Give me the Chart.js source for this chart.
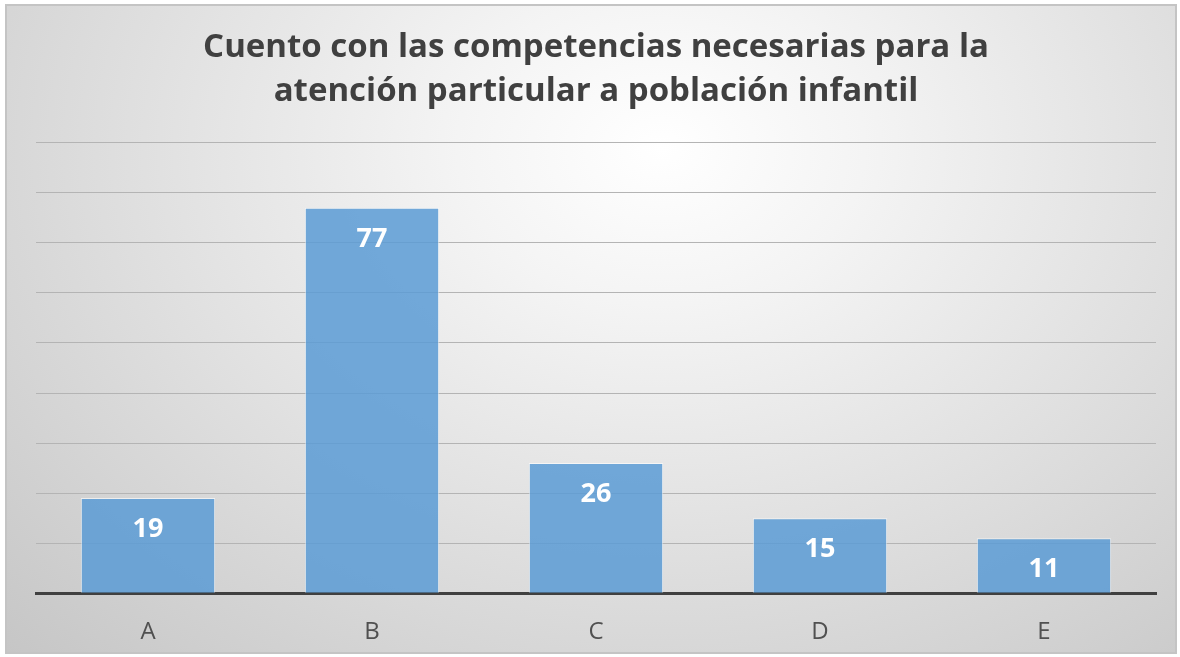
<!DOCTYPE html>
<html>
<head>
<meta charset="utf-8">
<script src="https://cdn.jsdelivr.net/npm/chart.js@4"></script>
<style>
  html, body { margin: 0; padding: 0; background: #ffffff; }
  #marco {
    position: absolute; left: 5px; top: 4px;
    width: 1168px; height: 646px;
    border: 2px solid #c4c4c4;
    background: radial-gradient(ellipse farthest-corner at 56% 22%, #ffffff 0%, #f4f4f4 22%, #c6c6c6 100%);
  }
  canvas { display: block; }
</style>
</head>
<body>
<div id="marco"><canvas id="grafico" width="1168" height="646"></canvas></div>
<script>
// Datos del gráfico
const categorias = ["A", "B", "C", "D", "E"];
const valores = [19, 77, 26, 15, 11];
const titulo = ["Cuento con las competencias necesarias para la", "atención particular a población infantil"];

// Etiquetas dentro del extremo de cada barra
const etiquetasBarras = {
    id: "etiquetasBarras",
    afterDatasetsDraw(chart) {
        const ctx = chart.ctx;
        const meta = chart.getDatasetMeta(0);
        ctx.save();
        ctx.fillStyle = "#ffffff";
        ctx.font = "bold 27px 'Open Sans', sans-serif";
        ctx.textAlign = "center";
        ctx.textBaseline = "middle";
        meta.data.forEach((barra, i) => {
            ctx.fillText(String(valores[i]), barra.x, barra.y + 31);
        });
        ctx.restore();
    }
};

const ctx = document.getElementById("grafico").getContext("2d");
new Chart(ctx, {
    type: "bar",
    data: {
        labels: categorias,
        datasets: [{
            data: valores,
            backgroundColor: "rgba(91, 155, 213, 0.85)",
            borderColor: "rgba(255, 255, 255, 0.6)",
            borderWidth: 1,
            barPercentage: 0.6,
            categoryPercentage: 1
        }]
    },
    options: {
        responsive: false,
        animation: false,
        layout: { padding: { left: 29, right: 19, top: 0, bottom: -20 } },
        plugins: {
            legend: { display: false },
            tooltip: { enabled: false },
            title: {
                display: true,
                text: titulo,
                color: "#404040",
                font: { family: "'Open Sans', sans-serif", size: 33, weight: "bold", lineHeight: 1.33 },
                padding: { top: 20, bottom: 29 }
            }
        },
        scales: {
            x: {
                grid: { display: false, drawTicks: false },
                border: { display: true, color: "#404040", width: 3 },
                ticks: { color: "#505050", font: { family: "'Open Sans', sans-serif", size: 24 }, padding: 25 }
            },
            y: {
                min: 0,
                max: 90,
                ticks: { display: false, stepSize: 10 },
                grid: { color: "#b4b4b4", lineWidth: 1, drawTicks: false },
                border: { display: false }
            }
        }
    },
    plugins: [etiquetasBarras]
});
</script>
</body>
</html>
